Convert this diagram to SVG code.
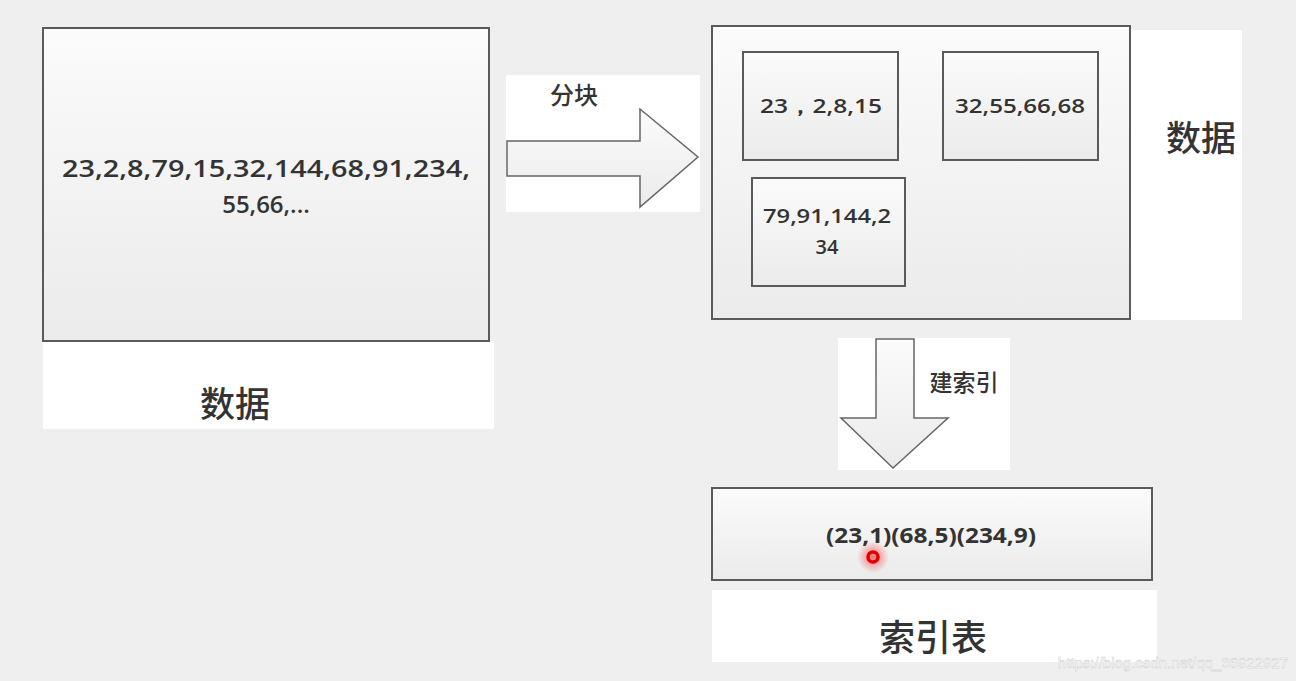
<svg xmlns="http://www.w3.org/2000/svg" width="1296" height="681" viewBox="0 0 1296 681">
<defs>
<linearGradient id="g" x1="0" y1="0" x2="0" y2="1">
<stop offset="0" stop-color="#fbfbfb"/>
<stop offset="1" stop-color="#ebebeb"/>
</linearGradient>
<radialGradient id="red">
<stop offset="0" stop-color="#ff2020" stop-opacity="0.6"/>
<stop offset="1" stop-color="#ff2020" stop-opacity="0"/>
</radialGradient>
<style>
.box{fill:url(#g);stroke:#5a5a5a;stroke-width:2}
.pad{fill:#ffffff}
.arrow{fill:url(#g);stroke:#666;stroke-width:1.5}
.num{font-family:"Open Sans","Liberation Sans",sans-serif;fill:#333;text-anchor:middle;font-weight:600}
.bold{font-weight:700}
.cjk{font-family:"Noto Sans CJK SC","Noto Sans",sans-serif;fill:#333;text-anchor:middle;font-weight:500}
</style>
</defs>
<rect width="1296" height="681" fill="#efefef"/>

<g id="source">
<rect class="pad" x="43" y="341" width="451" height="88"/>
<rect class="box" x="43" y="28" width="446" height="313"/>
<text class="num" x="266" y="177" font-size="24" textLength="408" lengthAdjust="spacingAndGlyphs">23,2,8,79,15,32,144,68,91,234,</text>
<text class="num" x="266" y="213" font-size="24">55,66,...</text>
<text class="cjk" x="235" y="417" font-size="35">数据</text>
</g>

<g id="blocks">
<rect class="pad" x="1130" y="30" width="112" height="290"/>
<rect class="box" x="712" y="26" width="418" height="293"/>
<text class="cjk" x="1201" y="151" font-size="35">数据</text>
<g id="block1">
<rect class="box" x="743" y="52" width="155" height="108"/>
<text class="num" x="821" y="113" font-size="20" textLength="122" lengthAdjust="spacingAndGlyphs">23，2,8,15</text>
</g>
<g id="block2">
<rect class="box" x="943" y="52" width="155" height="108"/>
<text class="num" x="1020" y="113" font-size="20" textLength="130" lengthAdjust="spacingAndGlyphs">32,55,66,68</text>
</g>
<g id="block3">
<rect class="box" x="752" y="178" width="153" height="108"/>
<text class="num" x="827" y="223" font-size="20" textLength="128" lengthAdjust="spacingAndGlyphs">79,91,144,2</text>
<text class="num" x="827" y="254" font-size="20">34</text>
</g>
</g>

<g id="index">
<rect class="pad" x="712" y="590" width="445" height="72"/>
<rect class="box" x="712" y="488" width="440" height="92"/>
<text class="num bold" x="931" y="543" font-size="21" textLength="210" lengthAdjust="spacingAndGlyphs">(23,1)(68,5)(234,9)</text>
<text class="cjk" x="933" y="651" font-size="36">索引表</text>
<circle cx="873" cy="557" r="16" fill="url(#red)"/>
<circle cx="873" cy="557" r="5" fill="none" stroke="#e00000" stroke-width="3.5"/>
</g>

<g id="connectors">
<rect class="pad" x="506" y="75" width="194" height="137"/>
<path class="arrow" d="M507,141 H640 V109 L698,157 L640,207 V176 H507 Z"/>
<text class="cjk" x="574" y="104" font-size="24">分块</text>
<rect class="pad" x="838" y="338" width="172" height="132"/>
<path class="arrow" d="M876,339 H914 V418 H948 L893,468 L841,418 H876 Z"/>
<text class="cjk" x="964" y="391" font-size="23">建索引</text>
</g>

<text x="1288" y="668" font-family="Liberation Sans,sans-serif" font-size="15" fill="#ffffff" stroke="#c8c8c8" stroke-width="0.4" text-anchor="end">https://blog.csdn.net/qq_36922927</text>
</svg>
